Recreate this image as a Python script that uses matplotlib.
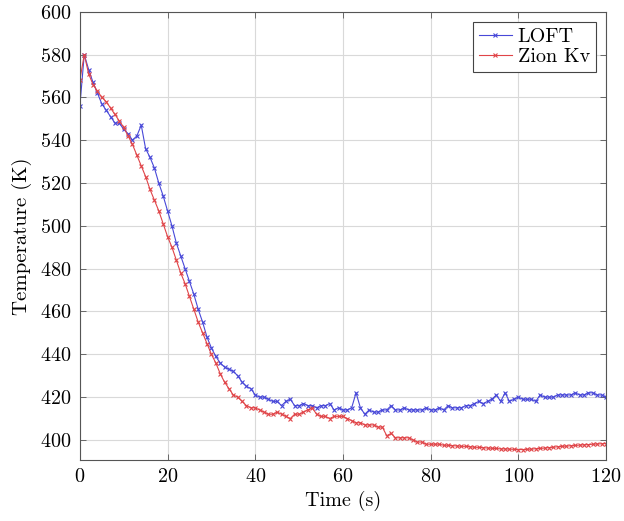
import numpy as np
import matplotlib.pyplot as plt

time = np.arange(0, 121, 1)

loft = [556, 580, 573, 567, 562, 557, 554, 551, 548, 548,
        545, 543, 540, 542, 547, 536, 532, 527, 520, 514,
        507, 500, 492, 486, 480, 474, 468, 461, 455, 448,
        443, 439, 436, 434, 433, 432, 430, 427, 425, 424,
        421, 420, 420, 419, 418, 418, 416, 418, 419, 416,
        416, 417, 416, 416, 415, 416, 416, 417, 414, 415,
        414, 414, 415, 422, 415, 412, 414, 413, 413, 414,
        414, 416, 414, 414, 415, 414, 414, 414, 414, 415,
        414, 414, 415, 414, 416, 415, 415, 415, 416, 416,
        417, 418, 417, 418, 419, 421, 418, 422, 418, 419,
        420, 419, 419, 419, 418, 421, 420, 420, 420, 421,
        421, 421, 421, 422, 421, 421, 422, 422, 421, 421,
        420]

zion_kv = [568, 580, 571, 566, 563, 560, 558, 555, 552, 549,
           546, 542, 538, 533, 528, 523, 517, 512, 507, 501,
           495, 490, 484, 478, 473, 467, 461, 455, 450, 445,
           440, 436, 431, 427, 424, 421, 420, 418, 416, 415,
           415, 414, 413, 412, 412, 413, 412, 411, 410, 412,
           412, 413, 414, 415, 412, 411, 411, 410, 411, 411,
           411, 410, 409, 408, 408, 407, 407, 407, 406, 406,
           402, 403, 401, 401, 401, 401, 400, 399, 399, 398,
           398, 398, 398, 397.5, 397.5, 397.3, 397.2, 397, 397, 396.8,
           396.6, 396.5, 396.4, 396.2, 396.1, 396, 395.8, 395.8, 395.7, 395.6,
           395.5, 395.5, 395.6, 395.7, 395.9, 396, 396.2, 396.4, 396.6, 396.8,
           397, 397.1, 397.3, 397.4, 397.6, 397.7, 397.8, 398, 398.1, 398.2,
           398.3]

plt.rcParams['font.family'] = 'serif'
plt.rcParams['font.serif'] = ['cmr10', 'DejaVu Serif']
plt.rcParams['mathtext.fontset'] = 'cm'
plt.rcParams['axes.formatter.use_mathtext'] = True

fig = plt.figure(figsize=(6.24, 5.21), dpi=100)
ax = fig.add_axes([0.128, 0.117, 0.843, 0.8605])

ax.plot(time, loft, color='#4848d8', lw=0.8, marker='x', ms=3.5, mew=0.8, label='LOFT')
ax.plot(time, zion_kv, color='#e04448', lw=0.8, marker='x', ms=3.5, mew=0.8, label='Zion Kv')

ax.set_xlim(0, 120)
ax.set_ylim(390.6, 600)
ax.set_xticks(range(0, 121, 20))
ax.set_yticks(range(400, 601, 20))
ax.grid(True, color='#d9d9d9', lw=0.8)
ax.set_axisbelow(True)
ax.tick_params(direction='in', top=True, right=True, length=4, width=0.6,
               color='#555555', labelsize=14.5, pad=6)
for s in ax.spines.values():
    s.set_color('#555555')
    s.set_linewidth(0.8)

ax.set_xlabel('Time (s)', fontsize=14.5, labelpad=3)
ax.set_ylabel('Temperature (K)', fontsize=15, labelpad=6)

leg = ax.legend(loc='upper right', fontsize=14.5, frameon=True, fancybox=False,
                framealpha=1, edgecolor='#444444', handlelength=1.6,
                numpoints=1, borderaxespad=0.5, handletextpad=0.3,
                borderpad=0.3, labelspacing=0.1)
leg.get_frame().set_linewidth(0.8)

fig.savefig('out.png', dpi=100)
